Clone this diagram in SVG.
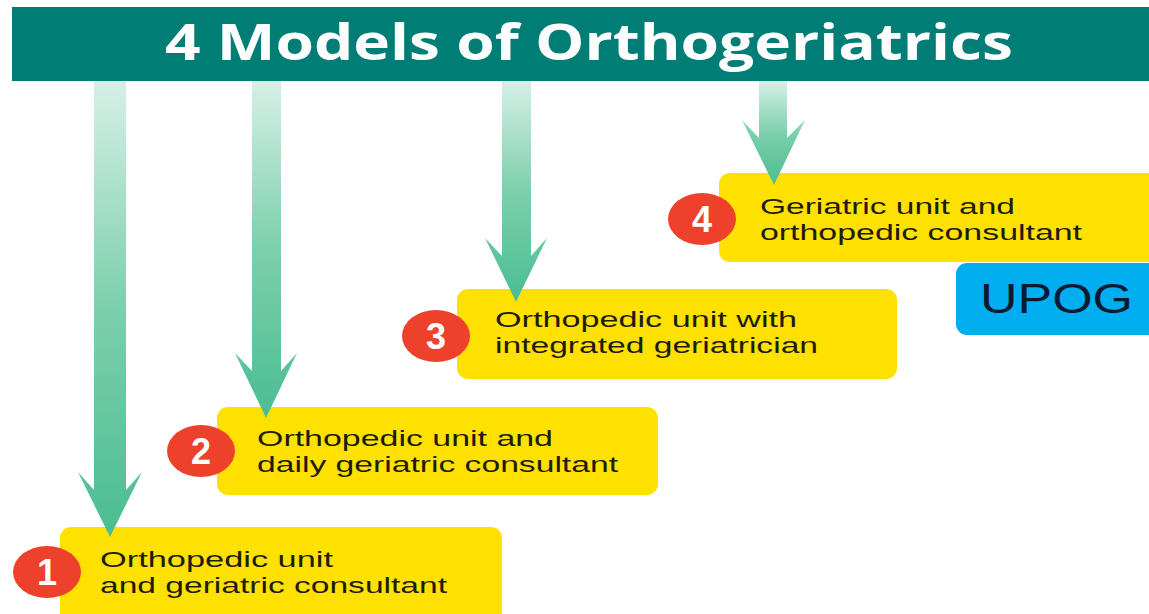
<svg xmlns="http://www.w3.org/2000/svg" width="1149" height="614" viewBox="0 0 1149 614">
  <defs>
    <linearGradient id="shaftFade" x1="0" y1="0" x2="0" y2="1">
      <stop offset="0" stop-color="#d6f0e6"/>
      <stop offset="0.5" stop-color="#7ccfad"/>
      <stop offset="1" stop-color="#4bbd92"/>
    </linearGradient>
    <style>
      .bar { fill: #007d75; }
      .title { font-family: "Open Sans", "Liberation Sans", sans-serif; font-weight: 700; font-size: 50px; fill: #ffffff; }
      .box { fill: #ffe100; }
      .label { font-family: "Liberation Sans", "Open Sans", sans-serif; font-size: 22px; fill: #1d1d0c; }
      .badge { fill: #ee412c; }
      .num { font-family: "Liberation Sans", sans-serif; font-weight: 700; font-size: 36px; fill: #ffffff; text-anchor: middle; }
      .arrow { fill: url(#shaftFade); }
      .tag { fill: #00aeef; }
      .tagtext { font-family: "Liberation Sans", sans-serif; font-size: 42px; fill: #0b1a33; }
    </style>
  </defs>

  <rect width="1149" height="614" fill="#ffffff"/>

  <!-- header bar -->
  <g id="header">
    <rect class="bar" x="12" y="7" width="1150" height="74"/>
    <text class="title" x="165" y="60" textLength="848" lengthAdjust="spacingAndGlyphs">4 Models of Orthogeriatrics</text>
  </g>

  <!-- model 1 -->
  <g id="model1">
    <rect class="box" x="60" y="527" width="442" height="100" rx="11"/>
    <ellipse class="badge" cx="47" cy="572" rx="34" ry="26"/>
    <text class="num" x="47" y="585">1</text>
    <text class="label" x="100" y="567" textLength="233" lengthAdjust="spacingAndGlyphs">Orthopedic unit</text>
    <text class="label" x="100" y="593" textLength="347" lengthAdjust="spacingAndGlyphs">and geriatric consultant</text>
  </g>

  <!-- model 2 -->
  <g id="model2">
    <rect class="box" x="217" y="407" width="441" height="88" rx="11"/>
    <ellipse class="badge" cx="201" cy="451" rx="34" ry="26"/>
    <text class="num" x="201" y="464">2</text>
    <text class="label" x="257" y="446" textLength="296" lengthAdjust="spacingAndGlyphs">Orthopedic unit and</text>
    <text class="label" x="257" y="472" textLength="361" lengthAdjust="spacingAndGlyphs">daily geriatric consultant</text>
  </g>

  <!-- model 3 -->
  <g id="model3">
    <rect class="box" x="457" y="289" width="440" height="90" rx="11"/>
    <ellipse class="badge" cx="436" cy="336" rx="34" ry="26"/>
    <text class="num" x="436" y="349">3</text>
    <text class="label" x="495" y="327" textLength="302" lengthAdjust="spacingAndGlyphs">Orthopedic unit with</text>
    <text class="label" x="495" y="353" textLength="323" lengthAdjust="spacingAndGlyphs">integrated geriatrician</text>
  </g>

  <!-- model 4 -->
  <g id="model4">
    <rect class="box" x="719" y="173" width="450" height="89" rx="11"/>
    <ellipse class="badge" cx="702" cy="219" rx="34" ry="26"/>
    <text class="num" x="702" y="232">4</text>
    <text class="label" x="760" y="214" textLength="255" lengthAdjust="spacingAndGlyphs">Geriatric unit and</text>
    <text class="label" x="760" y="240" textLength="322" lengthAdjust="spacingAndGlyphs">orthopedic consultant</text>
  </g>

  <!-- UPOG tag -->
  <g id="upog">
    <rect class="tag" x="956" y="263" width="210" height="72" rx="11"/>
    <text class="tagtext" x="980" y="313" textLength="153" lengthAdjust="spacingAndGlyphs">UPOG</text>
  </g>

  <!-- arrows from the header down to each model -->
  <g id="connectors">
    <path class="arrow" d="M94,81 H126 V490 L142,472 L110,537 L78,472 L94,490 Z"/>
    <path class="arrow" d="M252,81 H281 V371 L297,353 L266,418 L235,353 L252,371 Z"/>
    <path class="arrow" d="M502,81 H531 V256 L547,238 L516,302 L485,238 L502,256 Z"/>
    <path class="arrow" d="M759,81 H787 V138 L805,120 L774,185 L742,120 L759,138 Z"/>
  </g>
</svg>
